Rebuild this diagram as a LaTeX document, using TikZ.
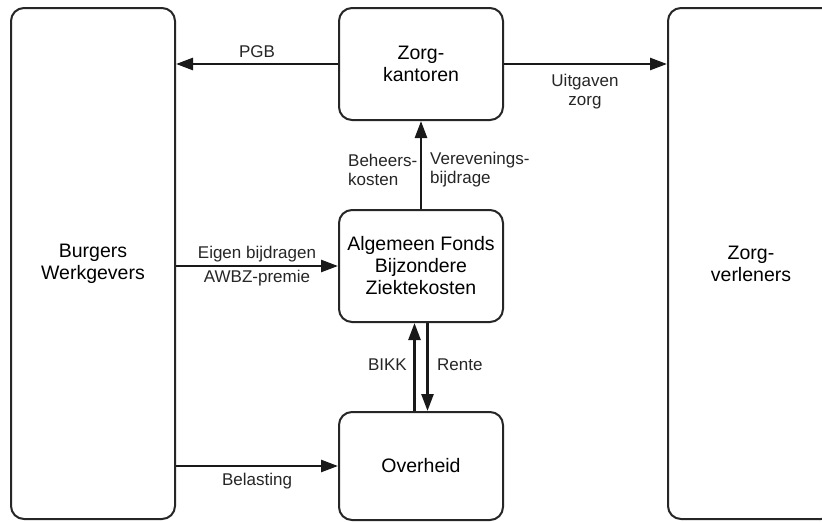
\documentclass[tikz,border=0pt]{standalone}
\usepackage{fontspec}
\setmainfont{Liberation Sans}
\usetikzlibrary{arrows.meta}
\begin{document}
\begin{tikzpicture}[x=1pt,y=-1pt,
  box/.style={draw=black!85, line width=2pt, rounded corners=13pt, align=center,
    font=\fontsize{19.5}{22}\selectfont, inner sep=0pt},
  flow/.style={line width=2.6pt, draw=black!90, -{Triangle[length=17pt,width=12pt]}},
  lbl/.style={font=\fontsize{17}{19}\selectfont, inner sep=0pt, text=black!85}
]
\useasboundingbox (0,0) rectangle (822,522);
\clip (0,0) rectangle (822,522);
\fill[white] (0,0) rectangle (822,522);
% boxes
\node[box, minimum width=164pt, minimum height=511pt] (burg) at (93,263.5) {Burgers\\Werkgevers};
\node[box, minimum width=166pt, minimum height=511pt] (zv) at (751,263.5) {Zorg-\\verleners};
\node[box, minimum width=164pt, minimum height=112pt] (zk) at (421,64) {Zorg-\\kantoren};
\node[box, minimum width=164pt, minimum height=112pt] (af) at (421,266) {Algemeen Fonds\\Bijzondere\\Ziektekosten};
\node[box, minimum width=164pt, minimum height=108pt] (ov) at (421,466) {Overheid};
% connectors
\draw[flow] (zk.west) -- (burg.east |- zk.west);
\draw[flow] (zk.east) -- (zv.west |- zk.east);
\draw[flow] (af.north) -- (zk.south);
\draw[flow] (burg.east |- af.west) -- (af.west);
\draw[flow] (burg.east |- ov.west) -- (ov.west);
\draw[flow] ([xshift=-6.5pt]ov.north) -- ([xshift=-6.5pt]af.south);
\draw[flow] ([xshift=6.5pt]af.south) -- ([xshift=6.5pt]ov.north);
% labels
\node[lbl] (lpgb) at (257,52) {PGB};
\node[lbl, align=center] (luit) at (585,92) {Uitgaven\\zorg};
\node[lbl, align=left, anchor=west] (lbeh) at (348,170) {Beheers-\\kosten};
\node[lbl, align=left, anchor=west] (lvev) at (430,170) {Verevenings-\\bijdrage};
\node[lbl] (leig) at (257,254) {Eigen bijdragen};
\node[lbl] (lawbz) at (257,278) {AWBZ-premie};
\node[lbl, anchor=east] (lbikk) at (407,365) {BIKK};
\node[lbl, anchor=west] (lrente) at (437,365) {Rente};
\node[lbl] (lbel) at (257,481) {Belasting};
\end{tikzpicture}
\end{document}
